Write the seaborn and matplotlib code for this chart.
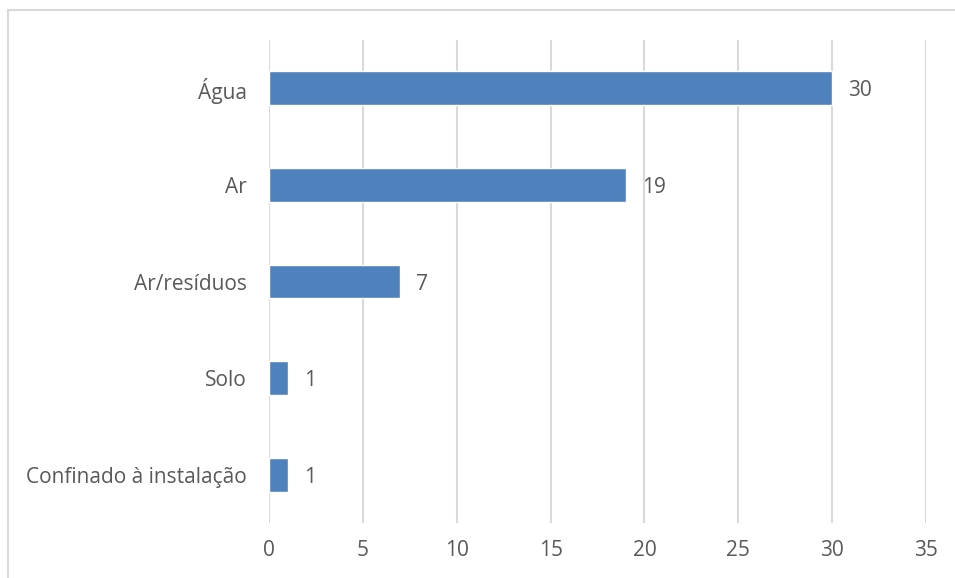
import matplotlib
matplotlib.use("Agg")
import matplotlib.pyplot as plt
import seaborn as sns
import pandas as pd
from matplotlib.patches import Rectangle

categories = ["Água", "Ar", "Ar/resíduos", "Solo", "Confinado à instalação"]
counts = [30, 19, 7, 1, 1]
x_ticks = [0, 5, 10, 15, 20, 25, 30, 35]

sns.set_theme(style="white")
plt.rcParams["font.family"] = ["Open Sans", "DejaVu Sans"]

text_color = "#595959"
bar_color = "#4F81BD"
grid_color = "#D9D9D9"
font_size = 15

df = pd.DataFrame({"categoria": categories, "valor": counts})

fig = plt.figure(figsize=(9.55, 5.78), dpi=100)
ax = fig.add_axes([269 / 955, 1 - 523 / 578, (926 - 269) / 955, (523 - 40) / 578])

sns.barplot(data=df, x="valor", y="categoria", order=categories,
            color=bar_color, saturation=1, width=0.35, ax=ax)

ax.set_xlim(0, 35)
ax.set_xticks(x_ticks)
ax.set_xticklabels([str(t) for t in x_ticks])
ax.xaxis.grid(True, color=grid_color, linewidth=1.5)
ax.set_axisbelow(True)
for s in ax.spines.values():
    s.set_visible(False)
ax.set_xlabel("")
ax.set_ylabel("")
ax.tick_params(axis="both", length=0, labelsize=font_size, labelcolor=text_color)
ax.tick_params(axis="x", pad=12)
ax.tick_params(axis="y", pad=16)

for i, v in enumerate(counts):
    ax.text(v + 0.85, i, str(v), va="center_baseline", ha="left",
            fontsize=font_size, color=text_color)

# outer chart frame
fig.patches.append(Rectangle((8 / 955, -0.1), 1.2, 1 - 10 / 578 + 0.1,
                             transform=fig.transFigure, fill=False,
                             edgecolor="#D9D9D9", linewidth=1.5))

fig.savefig("out.png", dpi=100)
